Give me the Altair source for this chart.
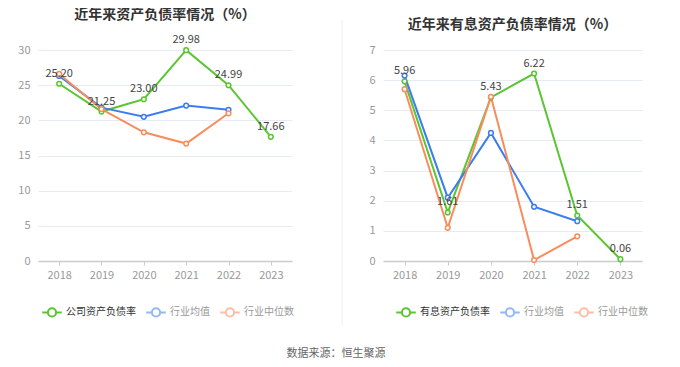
import altair as alt
import pandas as pd

years = ["2018", "2019", "2020", "2021", "2022", "2023"]

# Left: 资产负债率
left_company = [25.20, 21.25, 23.00, 29.98, 24.99, 17.66]
left_avg = [26.3, 21.8, 20.5, 22.1, 21.5]
left_median = [26.6, 21.6, 18.3, 16.7, 21.0]

# Right: 有息资产负债率
right_company = [5.96, 1.61, 5.43, 6.22, 1.51, 0.06]
right_avg = [6.15, 2.1, 4.25, 1.8, 1.32]
right_median = [5.7, 1.1, 5.45, 0.03, 0.82]

left_names = ["公司资产负债率", "行业均值", "行业中位数"]
right_names = ["有息资产负债率", "行业均值", "行业中位数"]
colors = ["#5ac531", "#3b7cf0", "#f98c5c"]

FONT = "Noto Sans CJK SC"
SYMBOL = "M-1,0L-0.42,0M0.42,0L1,0M-0.42,0A0.42,0.42 0 1 1 0.42,0A0.42,0.42 0 1 1 -0.42,0"
PLOT_H = 211


def make_df(names, series):
    rows = []
    for order, (name, vals) in enumerate(zip(names, series)):
        for y, v in zip(years, vals):
            rows.append({"year": y, "value": v, "series": name, "order": order})
    return pd.DataFrame(rows)


def panel(names, series, title, ymax, ystep, width, legend_x):
    df = make_df(names, series)
    color = alt.Color(
        "series:N",
        scale=alt.Scale(domain=names, range=colors),
        sort=names,
        legend=alt.Legend(
            title=None,
            orient="none",
            direction="horizontal",
            legendX=legend_x,
            legendY=PLOT_H + 40,
            symbolType=SYMBOL,
            symbolSize=380,
            symbolStrokeWidth=2,
            symbolFillColor="white",
            symbolOpacity={"expr": "datum.index == 0 ? 1 : 0.55"},
            labelFont=FONT,
            labelFontSize=10,
            labelColor={"expr": "datum.index == 0 ? '#333333' : '#999999'"},
            labelOffset=3,
            columnPadding=6,
            padding=0,
        ),
    )
    x = alt.X(
        "year:N",
        sort=years,
        scale=alt.Scale(domain=years),
        axis=alt.Axis(
            title=None,
            labelAngle=0,
            labelColor="#999999",
            labelFont=FONT,
            labelFontSize=11,
            labelPadding=4,
            domainColor="#cccccc",
            domainWidth=1.5,
            tickColor="#cccccc",
            tickSize=4,
            grid=False,
        ),
    )
    y = alt.Y(
        "value:Q",
        scale=alt.Scale(domain=[0, ymax], nice=False),
        axis=alt.Axis(
            title=None,
            values=list(range(0, ymax + 1, ystep)),
            labelColor="#999999",
            labelFont=FONT,
            labelFontSize=11,
            labelPadding=8,
            domain=False,
            ticks=False,
            gridColor="#e6eaf4",
            minExtent=30,
            maxExtent=30,
        ),
    )
    base = alt.Chart(df).encode(x=x, y=y, color=color, order=alt.Order("order:Q"))
    lines = base.mark_line(strokeWidth=2)
    points = base.mark_point(shape="circle", filled=False, fill="white", fillOpacity=1,
                             size=22, strokeWidth=1.5, opacity=1)
    labels = alt.Chart(df[df["order"] == 0]).mark_text(
        dy=-10, font=FONT, fontSize=11, color="#444444"
    ).encode(x=x, y=y, text=alt.Text("value:Q", format=".2f"))
    return alt.layer(lines, points, labels).properties(
        width=width,
        height=PLOT_H,
        title=alt.TitleParams(
            title, font=FONT, fontSize=14, fontWeight="bold", color="#333333",
            anchor="middle", offset=12,
        ),
    )


left = panel(left_names, [left_company, left_avg, left_median],
             "近年来资产负债率情况（%）", 30, 5, 254, 3)
right = panel(right_names, [right_company, right_avg, right_median],
              "近年来有息资产负债率情况（%）", 7, 1, 259, 12)

divider = alt.Chart(pd.DataFrame({"d": [0]})).mark_rule(
    color="#eeeeee", strokeWidth=1
).encode(x=alt.value(43), y=alt.value(-30), y2=alt.value(PLOT_H + 64)).properties(
    width=49, height=PLOT_H
)

chart = alt.hconcat(left, divider, right, spacing=5).resolve_scale(
    color="independent", x="independent", y="independent"
).properties(
    padding=0,
    background="white",
    title=alt.TitleParams(
        "数据来源：恒生聚源", orient="bottom", anchor="middle", font=FONT,
        fontSize=11, fontWeight="normal", color="#666666", offset=22, dx=8,
    ),
).configure_view(stroke="transparent", strokeWidth=0)

chart.save("out.html", embed_options={"renderer": "svg", "actions": False})
